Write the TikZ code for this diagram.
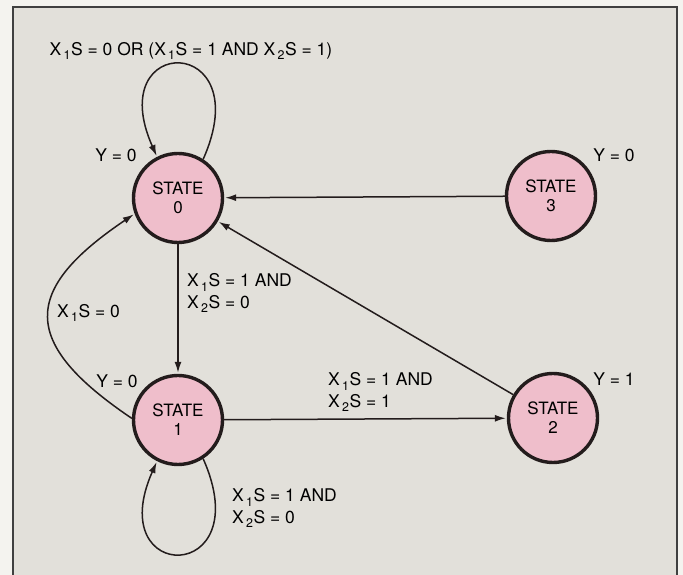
\documentclass[tikz,border=0pt]{standalone}
\usepackage{fontspec}
\setmainfont{TeX Gyre Heros}
\usetikzlibrary{arrows.meta}

\definecolor{paper}{RGB}{244,243,239}
\definecolor{panel}{RGB}{226,224,218}
\definecolor{statepink}{RGB}{239,190,203}
\definecolor{ink}{RGB}{35,28,28}

% X_nS with the subscript set a little apart and low
\newcommand{\xsig}[1]{X\kern2.2pt\raisebox{-4.5pt}{\fontsize{12.5}{12.5}\selectfont #1}\kern0.6pt S}

\begin{document}
\begin{tikzpicture}[x=1pt, y=1pt, font=\fontsize{17.5}{21.5}\selectfont,
  state/.style={circle, draw=ink, line width=3.4pt, fill=statepink,
    minimum size=89pt, inner sep=0pt, align=center,
    font=\fontsize{17}{19}\selectfont},
  trans/.style={draw=ink, line width=1.5pt, shorten >=1pt,
    -{Latex[length=11pt, width=7pt]}},
  cond/.style={align=left, anchor=west, inner sep=0pt}]
  % panel
  \useasboundingbox (0,0) rectangle (683,575);
  \fill[paper] (0,0) rectangle (683,575);
  \fill[panel] (13,0) rectangle (677,568);
  \draw[black!75, line width=1.3pt] (13,0) |- (677,568) -- (677,0);

  % states
  \node[state] (s0) at (178,377) {STATE\\0};
  \node[state] (s1) at (178,155) {STATE\\1};
  \node[state] (s2) at (553,157) {STATE\\2};
  \node[state] (s3) at (551,379) {STATE\\3};

  % transitions
  \draw[trans] (s0) -- (s1);
  \draw[trans] (s1) -- (s2);
  \draw[trans] (s2) -- (s0);
  \draw[trans] (s3) -- (s0);
  \draw[trans] (s1.178) .. controls +(146:136) and +(214:136) .. (s0.200);
  \draw[trans] (s0.57) .. controls +(66:138) and +(114:136) .. (s0.117);
  \draw[trans] (s1.-57) .. controls +(-66:138) and +(-114:136) .. (s1.-117);

  % outputs
  \node (y0) at (116,420) {Y = 0};
  \node (y1) at (117,194) {Y = 0};
  \node (y2) at (614,196) {Y = 1};
  \node (y3) at (614,420) {Y = 0};

  % conditions
  \node (c00) at (191,524) {\xsig{1} = 0 OR (\xsig{1} = 1 AND \xsig{2} = 1)};
  \node[cond] (c01) at (187,282) {\xsig{1} = 1 AND\\\xsig{2} = 0};
  \node[cond] (c10) at (57,262) {\xsig{1} = 0};
  \node[cond] (c12) at (328,183) {\xsig{1} = 1 AND\\\xsig{2} = 1};
  \node[cond] (c11) at (232,67) {\xsig{1} = 1 AND\\\xsig{2} = 0};
\end{tikzpicture}
\end{document}
